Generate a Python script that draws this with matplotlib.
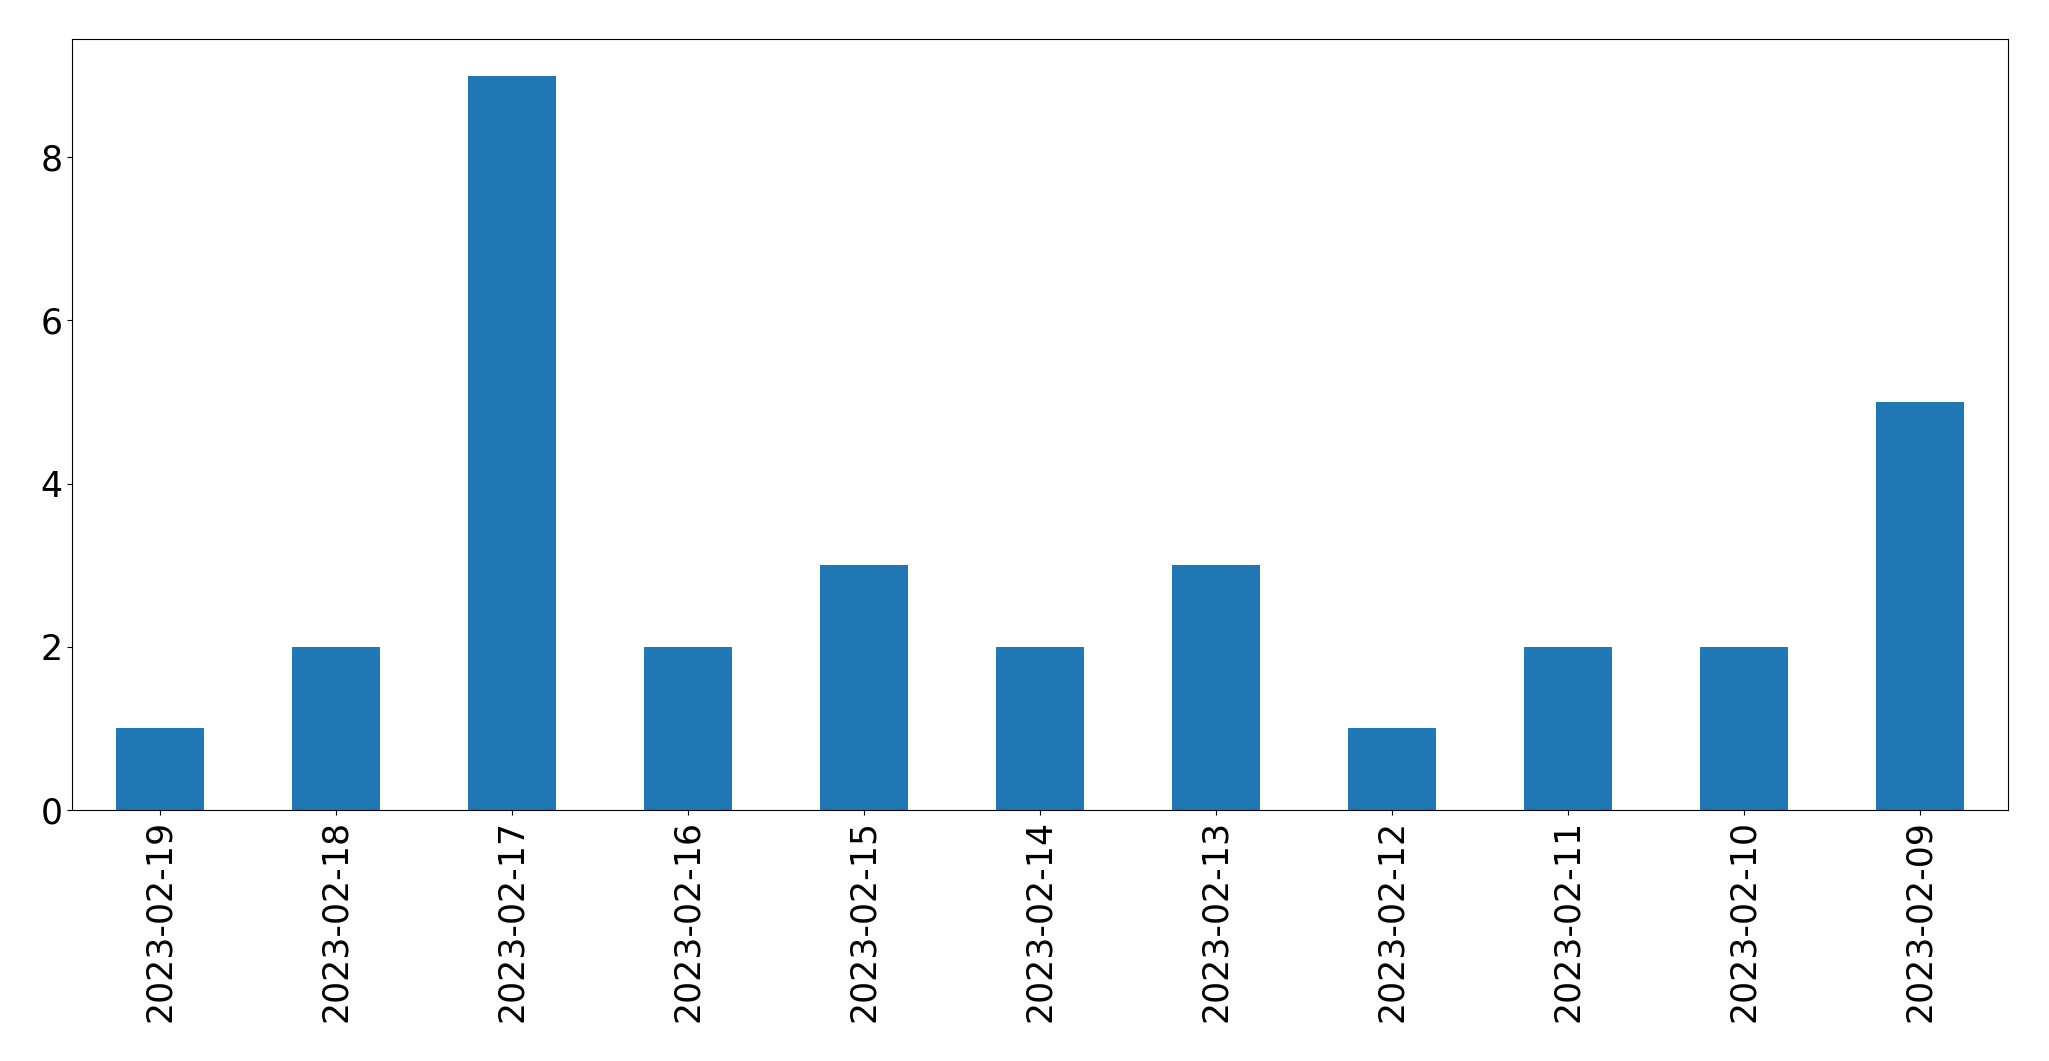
import matplotlib
matplotlib.use("Agg")
import numpy as np
from matplotlib import pyplot as plt

dates = ["2023-02-19", "2023-02-18", "2023-02-17", "2023-02-16", "2023-02-15",
         "2023-02-14", "2023-02-13", "2023-02-12", "2023-02-11", "2023-02-10",
         "2023-02-09"]
counts = [1, 2, 9, 2, 3, 2, 3, 1, 2, 2, 5]

fig, ax = plt.subplots(figsize=(20.49, 10.61), dpi=100)
fig.subplots_adjust(left=72 / 2049, right=2008 / 2049, top=1 - 39 / 1061, bottom=1 - 810 / 1061)

x = np.arange(len(dates))
ax.bar(x, counts, width=0.5, color="#1f77b4")
ax.set_xlim(-0.5, len(dates) - 0.5)
ax.set_ylim(0, max(counts) * 1.05)
ax.set_xticks(x)
ax.set_xticklabels(dates, rotation=90)
ax.tick_params(labelsize=25)

fig.savefig("out.png")
